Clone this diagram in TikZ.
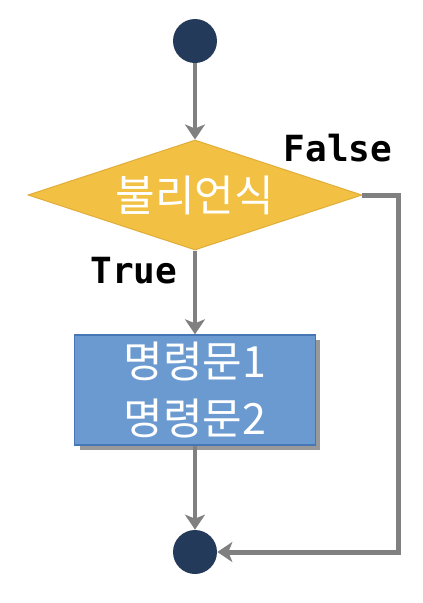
\documentclass[tikz,border=0pt]{standalone}
\usepackage{fontspec}
\newfontfamily\kr{Noto Sans CJK KR}
\newfontfamily\mono{DejaVu Sans Mono}
\usetikzlibrary{shapes.geometric,arrows.meta,shadows}
\definecolor{dot}{HTML}{243A5A}
\definecolor{cond}{HTML}{F2C143}
\definecolor{condline}{HTML}{E2AE3A}
\definecolor{stmt}{HTML}{6A9AD0}
\definecolor{stmtline}{HTML}{4676B4}
\definecolor{flowline}{HTML}{808080}

\begin{document}
\begin{tikzpicture}[x=0.02cm, y=-0.02cm,
  dotnode/.style={circle, fill=dot, minimum size=0.88cm, inner sep=0pt},
  flow/.style={draw=flowline, line width=0.1cm, -{Stealth[length=0.3cm, width=0.4cm, inset=0.08cm]}},
  label/.style={font=\mono\bfseries\fontsize{20.5}{24}\selectfont, inner sep=0pt}]
\useasboundingbox (0,0) rectangle (423,603);

\node[dotnode] (start) at (195,41) {};
\node[diamond, fill=cond, draw=condline, line width=0.6pt, minimum width=6.68cm, minimum height=2.2cm,
  aspect=3, inner sep=0pt, text=white, font=\kr\fontsize{24.5}{28}\selectfont] (cond) at (195,195) {불리언식};
\node[rectangle, fill=stmt, draw=stmtline, line width=0.8pt, minimum width=4.82cm, minimum height=2.2cm,
  drop shadow={shadow xshift=0.1cm, shadow yshift=-0.1cm, fill=gray!80, opacity=1},
  align=center, text=white, font=\kr\fontsize{24.5}{32.5}\selectfont] (stmt) at (195,390) {명령문1\\명령문2};
\node[dotnode] (end) at (195,552) {};

\node[label] (false) at (338,148) {False};
\node[label] (true) at (134,271) {True};

% connectors
\coordinate (corner) at (398,552);
\draw[flow] (start) -- (cond.north);
\draw[flow] (cond.south) -- (stmt.north);
\draw[flow] (stmt.south) -- (end);
\draw[flow] (cond.east) -| (corner) -- (end);
\end{tikzpicture}
\end{document}
